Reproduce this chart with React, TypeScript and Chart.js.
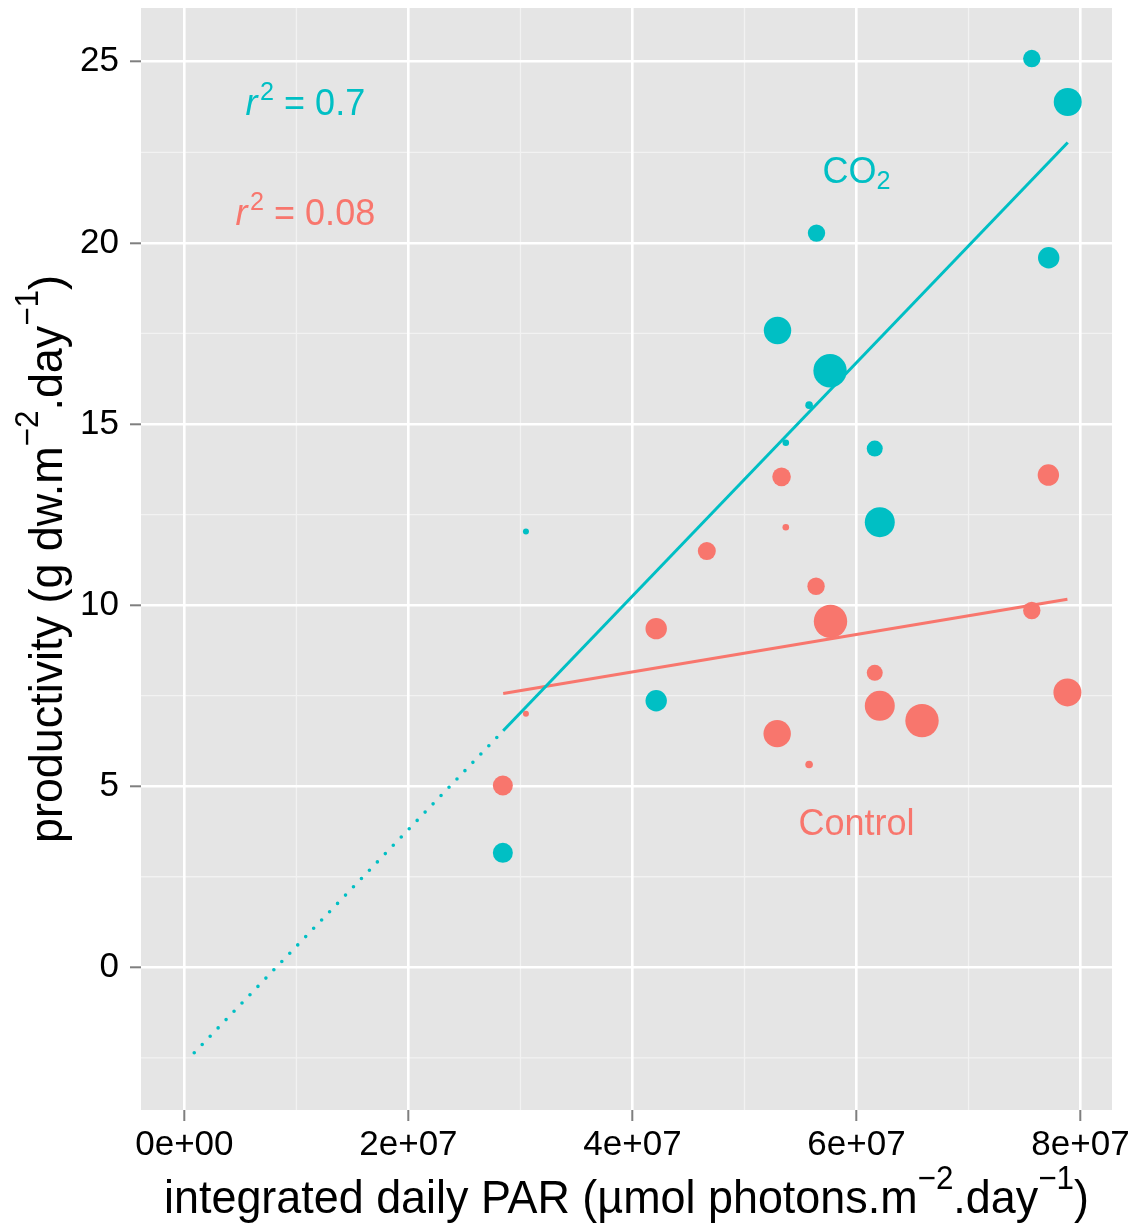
import { useEffect, useRef } from "react";
import { Chart, registerables } from "chart.js";

Chart.register(...registerables);

const TEAL = "#00BFC4";
const SALMON = "#F8766D";
const FONT = '"Liberation Sans", Arial, Helvetica, sans-serif';

// CO2-enriched cultures: integrated daily PAR, productivity, bubble size
const co2Par = [7.565e7, 7.886e7, 5.643e7, 7.716e7, 5.295e7, 5.764e7, 5.577e7, 5.369e7, 6.163e7, 6.208e7, 3.049e7, 4.212e7, 2.843e7];
const co2Productivity = [25.09, 23.89, 20.27, 19.59, 17.58, 16.47, 15.52, 14.48, 14.32, 12.29, 12.03, 7.36, 3.16];
const co2Size = [8.7, 14, 8.7, 10.7, 13.7, 16.7, 3.8, 3.3, 8, 15, 3, 10.7, 10];

// Control cultures
const controlPar = [7.713e7, 5.331e7, 5.369e7, 4.664e7, 5.639e7, 5.768e7, 4.212e7, 7.565e7, 6.163e7, 7.883e7, 6.208e7, 6.585e7, 3.049e7, 5.292e7, 5.577e7, 2.843e7];
const controlProductivity = [13.59, 13.54, 12.15, 11.49, 10.52, 9.55, 9.35, 9.85, 8.13, 7.59, 7.22, 6.81, 7.0, 6.45, 5.6, 5.02];
const controlSize = [10.7, 9.3, 3.3, 9, 8.7, 16.7, 10.7, 8.7, 8, 14, 15, 16.7, 3, 13.7, 3.8, 10];

// Linear fits (solid over the observed range, dotted extrapolation for CO2)
const co2FitPar = [2.846e7, 7.886e7];
const co2FitProductivity = [6.53, 22.77];
const co2ExtPar = [8.8e5, 2.846e7];
const co2ExtProductivity = [-2.36, 6.53];
const controlFitPar = [2.846e7, 7.883e7];
const controlFitProductivity = [7.56, 10.16];

// Axes
const xRange = [-3.873e6, 8.281e7];
const yRange = [-3.94, 26.485];
const xTicks = [0, 2e7, 4e7, 6e7, 8e7];
const xTickLabels = ["0e+00", "2e+07", "4e+07", "6e+07", "8e+07"];
const xMinorTicks = [1e7, 3e7, 5e7, 7e7];
const yTicks = [0, 5, 10, 15, 20, 25];
const yTickLabels = ["0", "5", "10", "15", "20", "25"];
const yMinorTicks = [-2.5, 2.5, 7.5, 12.5, 17.5, 22.5];

type Part = { text: string; italic?: boolean; shift?: "sup" | "sub"; gap?: number };

const xTitle: Part[] = [
  { text: "integrated daily PAR (\u00b5mol photons.m" },
  { text: "\u22122", shift: "sup" },
  { text: ".day" },
  { text: "\u22121", shift: "sup" },
  { text: ")" },
];
const yTitle: Part[] = [
  { text: "productivity (g dw.m" },
  { text: "\u22122", shift: "sup" },
  { text: ".day" },
  { text: "\u22121", shift: "sup" },
  { text: ")" },
];

const labelPar = [1.08e7, 1.08e7, 6e7, 6e7];
const labelProductivity = [23.88, 20.84, 22, 4];
const labelParts: Part[][] = [
  [{ text: "r", italic: true }, { text: "2", shift: "sup", gap: 0.07 }, { text: " = 0.7" }],
  [{ text: "r", italic: true }, { text: "2", shift: "sup", gap: 0.07 }, { text: " = 0.08" }],
  [{ text: "CO" }, { text: "2", shift: "sub" }],
  [{ text: "Control" }],
];
const labelColors = [TEAL, SALMON, TEAL, SALMON];

const toXY = (xs: number[], ys: number[]) => xs.map((x, i) => ({ x, y: ys[i] }));
const toBubbles = (xs: number[], ys: number[], s: number[]) =>
  xs.map((x, i) => ({ x, y: ys[i], r: s[i] }));

function drawRich(
  ctx: CanvasRenderingContext2D,
  parts: Part[],
  x: number,
  y: number,
  size: number,
  color: string,
  opts: { hscale?: number; rotate?: boolean; supRaise?: number; subDrop?: number; small?: number } = {}
) {
  const hscale = opts.hscale ?? 1;
  const supRaise = opts.supRaise ?? 0.42;
  const subDrop = opts.subDrop ?? 0.17;
  const small = opts.small ?? 0.7;
  const fontFor = (p: Part) =>
    `${p.italic ? "italic " : ""}${p.shift ? size * small : size}px ${FONT}`;
  ctx.save();
  ctx.translate(x, y);
  if (opts.rotate) ctx.rotate(-Math.PI / 2);
  ctx.scale(hscale, 1);
  ctx.fillStyle = color;
  ctx.textBaseline = "alphabetic";
  ctx.textAlign = "left";
  const widths = parts.map((p) => {
    ctx.font = fontFor(p);
    return ctx.measureText(p.text).width + (p.gap ?? 0) * size;
  });
  const total = widths.reduce((a, b) => a + b, 0);
  let cx = -total / 2;
  parts.forEach((p, i) => {
    ctx.font = fontFor(p);
    const dy = p.shift === "sup" ? -size * supRaise : p.shift === "sub" ? size * subDrop : 0;
    ctx.fillText(p.text, cx + (p.gap ?? 0) * size, dy);
    cx += widths[i];
  });
  ctx.restore();
}

const panelPlugin = {
  id: "panel",
  beforeDraw(chart: any) {
    const { ctx, chartArea: a, scales } = chart;
    ctx.save();
    ctx.fillStyle = "#FFFFFF";
    ctx.fillRect(0, 0, chart.width, chart.height);
    ctx.fillStyle = "#E5E5E5";
    ctx.fillRect(a.left, a.top, a.right - a.left, a.bottom - a.top);
    ctx.strokeStyle = "#F2F2F2";
    ctx.lineWidth = 1.3;
    ctx.beginPath();
    xMinorTicks.forEach((v) => {
      const px = scales.x.getPixelForValue(v);
      ctx.moveTo(px, a.top);
      ctx.lineTo(px, a.bottom);
    });
    yMinorTicks.forEach((v) => {
      const py = scales.y.getPixelForValue(v);
      ctx.moveTo(a.left, py);
      ctx.lineTo(a.right, py);
    });
    ctx.stroke();
    ctx.restore();
  },
  afterDraw(chart: any) {
    const { ctx, chartArea: a, scales } = chart;
    // text annotations
    labelParts.forEach((parts, i) => {
      const size = 36;
      const px = scales.x.getPixelForValue(labelPar[i]);
      const py = scales.y.getPixelForValue(labelProductivity[i]) + size * 0.716 * 0.5;
      drawRich(ctx, parts, px, py, size, labelColors[i]);
    });
    // axis titles
    const tSize = 47;
    drawRich(ctx, xTitle, (a.left + a.right) / 2, 1213, tSize, "#000000", {
      hscale: 0.955,
      supRaise: 0.52,
    });
    drawRich(ctx, yTitle, 62, (a.top + a.bottom) / 2, tSize, "#000000", {
      hscale: 0.955,
      supRaise: 0.52,
      rotate: true,
    });
  },
};

export default function App() {
  const canvasRef = useRef<HTMLCanvasElement | null>(null);

  useEffect(() => {
    const canvas = canvasRef.current;
    if (!canvas) return;
    const tickFont = { family: FONT, size: 35 };
    const chart = new Chart(canvas, {
      type: "bubble",
      data: {
        datasets: [
          {
            type: "line",
            label: "CO2 fit",
            data: toXY(co2FitPar, co2FitProductivity),
            borderColor: TEAL,
            borderWidth: 3,
            pointRadius: 0,
            order: 0,
          } as any,
          {
            type: "line",
            label: "CO2 extrapolation",
            data: toXY(co2ExtPar, co2ExtProductivity),
            borderColor: TEAL,
            borderWidth: 3.6,
            borderDash: [0, 11.5],
            borderCapStyle: "round",
            pointRadius: 0,
            order: 1,
          } as any,
          {
            type: "line",
            label: "Control fit",
            data: toXY(controlFitPar, controlFitProductivity),
            borderColor: SALMON,
            borderWidth: 3,
            pointRadius: 0,
            order: 2,
          } as any,
          {
            label: "CO2",
            data: toBubbles(co2Par, co2Productivity, co2Size),
            backgroundColor: TEAL,
            borderWidth: 0,
            hoverRadius: 0,
            order: 3,
          },
          {
            label: "Control",
            data: toBubbles(controlPar, controlProductivity, controlSize),
            backgroundColor: SALMON,
            borderWidth: 0,
            hoverRadius: 0,
            order: 4,
          },
        ],
      },
      options: {
        animation: false,
        responsive: false,
        devicePixelRatio: 1,
        events: [],
        layout: { autoPadding: false, padding: { top: 8, right: 26, left: 0, bottom: 0 } },
        plugins: { legend: { display: false }, tooltip: { enabled: false } },
        scales: {
          x: {
            type: "linear",
            min: xRange[0],
            max: xRange[1],
            afterBuildTicks: (s: any) => {
              s.ticks = xTicks.map((v) => ({ value: v }));
            },
            afterFit: (s: any) => {
              s.height = 114;
              s.paddingLeft = 0;
              s.paddingRight = 0;
              s.paddingTop = 0;
              s.paddingBottom = 0;
            },
            ticks: {
              font: tickFont,
              color: "#000000",
              padding: 3,
              maxRotation: 0,
              autoSkip: false,
              callback: (v: any) => xTickLabels[xTicks.indexOf(Number(v))],
            },
            grid: {
              color: "#FFFFFF",
              lineWidth: 2.6,
              tickColor: "#7F7F7F",
              tickLength: 11,
              tickWidth: 2,
            },
            border: { display: false },
          },
          y: {
            type: "linear",
            min: yRange[0],
            max: yRange[1],
            afterBuildTicks: (s: any) => {
              s.ticks = yTicks.map((v) => ({ value: v }));
            },
            afterFit: (s: any) => {
              s.width = 141;
              s.paddingLeft = 0;
              s.paddingRight = 0;
              s.paddingTop = 0;
              s.paddingBottom = 0;
            },
            ticks: {
              font: tickFont,
              color: "#000000",
              padding: 11,
              autoSkip: false,
              callback: (v: any) => yTickLabels[yTicks.indexOf(Number(v))],
            },
            grid: {
              color: "#FFFFFF",
              lineWidth: 2.6,
              tickColor: "#7F7F7F",
              tickLength: 11,
              tickWidth: 2,
            },
            border: { display: false },
          },
        },
      } as any,
      plugins: [panelPlugin],
    });
    return () => chart.destroy();
  }, []);

  return (
    <div style={{ position: "absolute", left: 0, top: 0, width: 1138, height: 1224, background: "#FFFFFF" }}>
      <canvas ref={canvasRef} width={1138} height={1224} style={{ display: "block" }} />
    </div>
  );
}
